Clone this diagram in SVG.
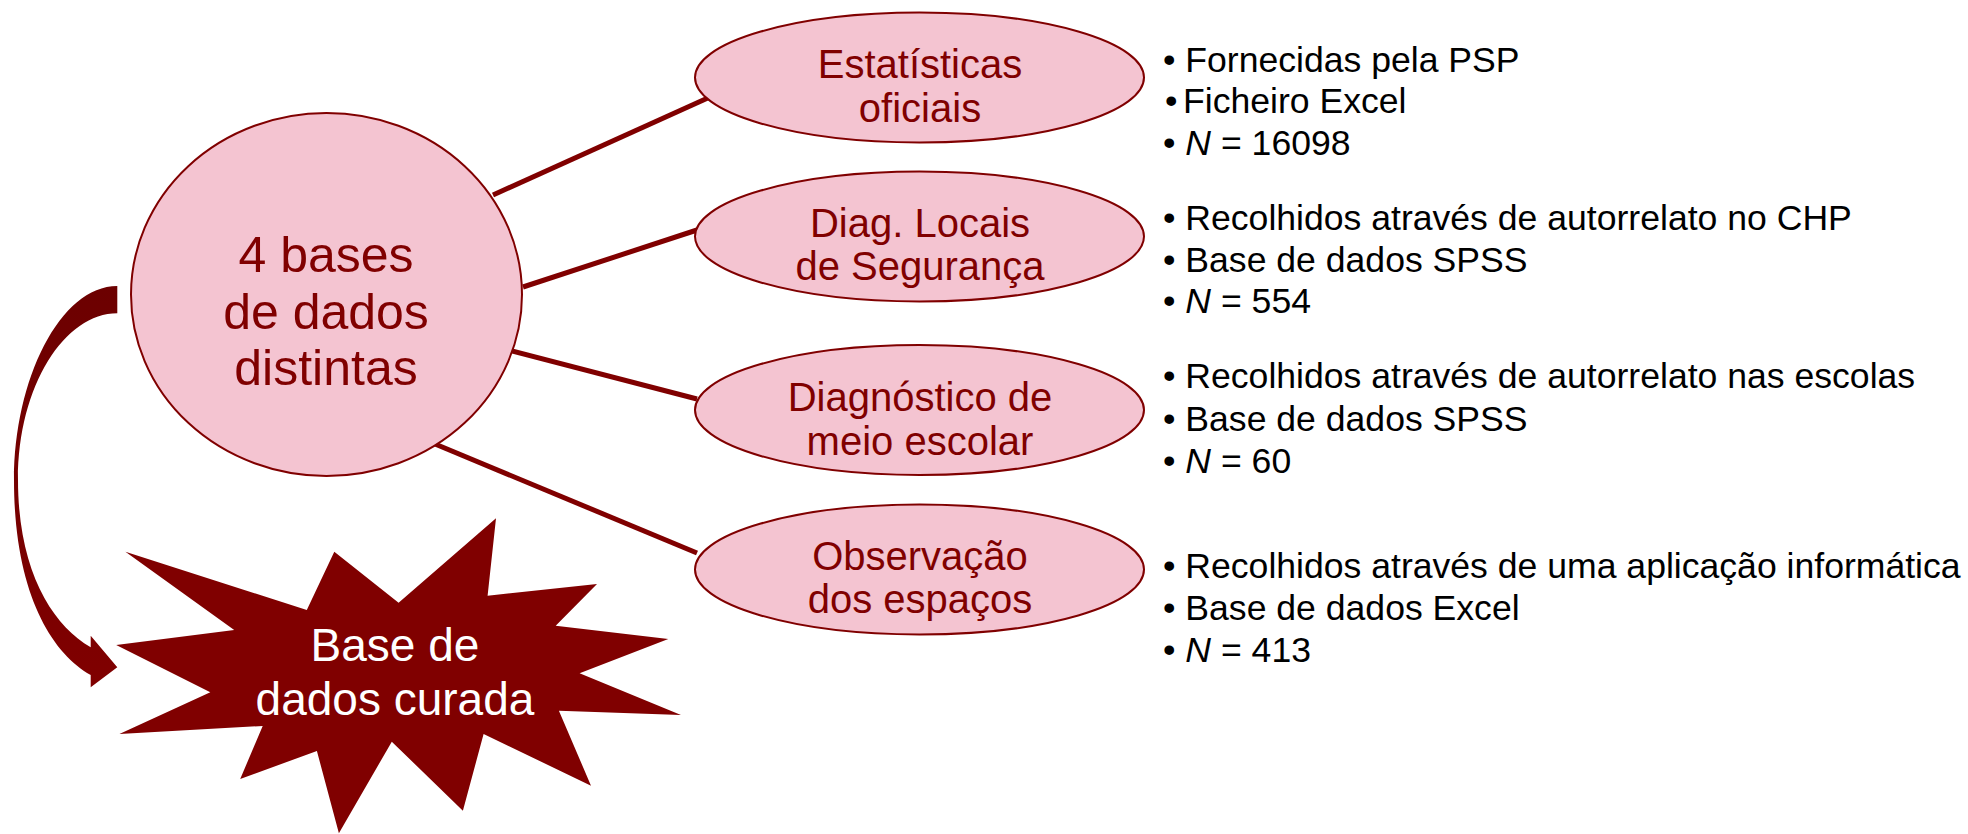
<svg xmlns="http://www.w3.org/2000/svg" width="1968" height="834" viewBox="0 0 1968 834">
  <style>
    .node { fill: #F4C4D1; stroke: #800000; stroke-width: 2; }
    .lbl { font-family: "Liberation Sans", Arial, sans-serif; fill: #800000; text-anchor: middle; }
    .conn { stroke: #800000; stroke-width: 5; fill: none; }
    .list { font-family: "Liberation Sans", Arial, sans-serif; font-size: 35.6px; fill: #000000; }
    .it { font-style: italic; }
  </style>
  <defs>
    <linearGradient id="arrowGrad" x1="0" y1="0" x2="0" y2="1">
      <stop offset="0" stop-color="#6c0000"/>
      <stop offset="1" stop-color="#800000"/>
    </linearGradient>
  </defs>
  <rect width="1968" height="834" fill="#ffffff"/>

  <g id="connectors">
    <line class="conn" x1="493" y1="195" x2="710" y2="97"/>
    <line class="conn" x1="523" y1="287" x2="697" y2="230"/>
    <line class="conn" x1="508" y1="350" x2="697" y2="399"/>
    <line class="conn" x1="435" y1="444" x2="697" y2="553"/>
    <path id="curved-arrow" fill="url(#arrowGrad)" d="M117.3,286 C60,286 14,380 14,480 C14,590 50,652 90.7,675 L90.7,687.3 L117.3,667.3 L90.7,635.7 L90.7,647.3 C52,625 18,570 18,480 C18,385 65,313.3 117.3,313.3 Z"/>
  </g>

  <g id="node-center">
    <ellipse class="node" cx="326.5" cy="294.5" rx="195.5" ry="181.5"/>
    <text class="lbl" font-size="50" x="326" y="272">4 bases</text>
    <text class="lbl" font-size="50" x="326" y="329">de dados</text>
    <text class="lbl" font-size="50" x="326" y="385">distintas</text>
  </g>

  <g id="node-estatisticas">
    <ellipse class="node" cx="919.5" cy="77.5" rx="224.5" ry="65"/>
    <text class="lbl" font-size="40" x="920" y="78">Estatísticas</text>
    <text class="lbl" font-size="40" x="920" y="122">oficiais</text>
  </g>

  <g id="node-diag-locais">
    <ellipse class="node" cx="919.5" cy="236.5" rx="224.5" ry="65"/>
    <text class="lbl" font-size="40" x="920" y="237">Diag. Locais</text>
    <text class="lbl" font-size="40" x="920" y="280">de Segurança</text>
  </g>

  <g id="node-diag-escolar">
    <ellipse class="node" cx="919.5" cy="410" rx="224.5" ry="65"/>
    <text class="lbl" font-size="40" x="920" y="411">Diagnóstico de</text>
    <text class="lbl" font-size="40" x="920" y="455">meio escolar</text>
  </g>

  <g id="node-observacao">
    <ellipse class="node" cx="919.5" cy="569.5" rx="224.5" ry="65"/>
    <text class="lbl" font-size="40" x="920" y="570">Observação</text>
    <text class="lbl" font-size="40" x="920" y="613">dos espaços</text>
  </g>

  <g id="node-base-curada">
    <polygon fill="#800000" points="125.4,551.7 306.8,610 334.3,551.7 398.6,602.7 496,518.3 487.6,595.7 597,584 555.7,625.7 668.3,639 579.6,673.3 681,715 558.9,710.7 591,785.7 483.6,734 462.9,810.7 391.8,741.7 338.9,833.3 316.9,751 240.2,779 262.7,726 119.4,734 210.3,692.3 116.2,645 234.2,630"/>
    <text font-family="Liberation Sans, Arial, sans-serif" font-size="46" fill="#ffffff" text-anchor="middle" x="395" y="661">Base de</text>
    <text font-family="Liberation Sans, Arial, sans-serif" font-size="46" fill="#ffffff" text-anchor="middle" x="395" y="715">dados curada</text>
  </g>

  <g id="list-estatisticas">
    <text class="list" x="1163" y="72">• Fornecidas pela PSP</text>
    <text class="list" x="1165" y="113">•</text>
    <text class="list" x="1183" y="113">Ficheiro Excel</text>
    <text class="list" x="1163" y="155">• <tspan class="it">N</tspan> = 16098</text>
  </g>

  <g id="list-diag-locais">
    <text class="list" x="1163" y="230">• Recolhidos através de autorrelato no CHP</text>
    <text class="list" x="1163" y="272">• Base de dados SPSS</text>
    <text class="list" x="1163" y="313">• <tspan class="it">N</tspan> = 554</text>
  </g>

  <g id="list-diag-escolar">
    <text class="list" x="1163" y="388">• Recolhidos através de autorrelato nas escolas</text>
    <text class="list" x="1163" y="431">• Base de dados SPSS</text>
    <text class="list" x="1163" y="473">• <tspan class="it">N</tspan> = 60</text>
  </g>

  <g id="list-observacao">
    <text class="list" x="1163" y="578">• Recolhidos através de uma aplicação informática</text>
    <text class="list" x="1163" y="620">• Base de dados Excel</text>
    <text class="list" x="1163" y="662">• <tspan class="it">N</tspan> = 413</text>
  </g>
</svg>
